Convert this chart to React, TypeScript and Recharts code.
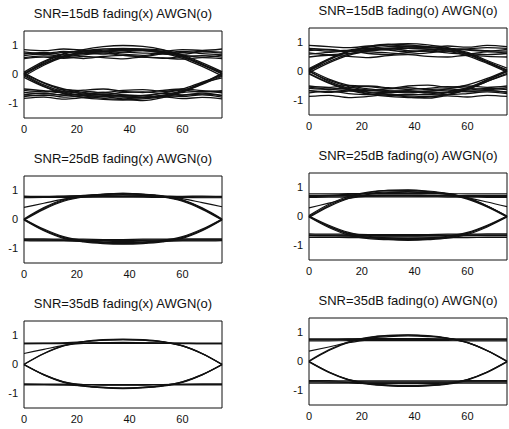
import { LineChart, Line, XAxis, YAxis, ReferenceArea } from 'recharts'

// sample positions along one symbol period
const xs = [0, 7.5, 15, 22.5, 30, 37.5, 45, 52.5, 60, 67.5, 75]
const xTicks = [0, 20, 40, 60]
const yTicks = [-1, 0, 1]

const snr15x = [
  [0.78, 0.72, 0.8, 0.74, 0.7, 0.77, 0.82, 0.75, 0.7, 0.78, 0.74],
  [0.65, 0.7, 0.62, 0.68, 0.74, 0.66, 0.62, 0.7, 0.66, 0.6, 0.67],
  [0.86, 0.82, 0.88, 0.84, 0.8, 0.87, 0.85, 0.8, 0.86, 0.83, 0.88],
  [0.55, 0.6, 0.56, 0.62, 0.58, 0.54, 0.6, 0.57, 0.53, 0.58, 0.55],
  [0.7, 0.76, 0.68, 0.72, 0.78, 0.7, 0.66, 0.74, 0.8, 0.72, 0.68],
  [0.58, 0.64, 0.6, 0.55, 0.62, 0.66, 0.6, 0.56, 0.62, 0.65, 0.6],
  [-0.7, -0.64, -0.72, -0.68, -0.62, -0.7, -0.74, -0.66, -0.7, -0.64, -0.72],
  [-0.55, -0.6, -0.52, -0.57, -0.62, -0.55, -0.52, -0.58, -0.54, -0.6, -0.56],
  [-0.82, -0.78, -0.85, -0.8, -0.76, -0.84, -0.8, -0.77, -0.83, -0.79, -0.84],
  [-0.62, -0.66, -0.6, -0.64, -0.68, -0.62, -0.6, -0.65, -0.62, -0.58, -0.63],
  [-0.76, -0.7, -0.78, -0.74, -0.68, -0.76, -0.8, -0.72, -0.76, -0.7, -0.78],
  [-0.5, -0.56, -0.6, -0.54, -0.5, -0.58, -0.62, -0.55, -0.5, -0.56, -0.6],
  [0.02, 0.42, 0.7, 0.86, 0.96, 1.0, 0.97, 0.86, 0.64, 0.36, 0.04],
  [-0.06, 0.32, 0.6, 0.74, 0.8, 0.84, 0.82, 0.74, 0.56, 0.28, -0.05],
  [0.08, 0.45, 0.72, 0.82, 0.88, 0.9, 0.88, 0.84, 0.68, 0.4, 0.1],
  [0.04, 0.38, 0.64, 0.78, 0.84, 0.88, 0.86, 0.78, 0.6, 0.34, 0.08],
  [0, -0.36, -0.6, -0.74, -0.82, -0.86, -0.9, -0.8, -0.6, -0.32, 0.02],
  [0.06, -0.28, -0.5, -0.62, -0.7, -0.74, -0.72, -0.64, -0.5, -0.26, -0.04],
  [-0.1, -0.42, -0.64, -0.72, -0.76, -0.78, -0.8, -0.72, -0.56, -0.3, -0.12],
  [-0.04, -0.4, -0.66, -0.8, -0.86, -0.88, -0.84, -0.76, -0.6, -0.34, -0.06],
  [0, 0.36, 0.62, 0.74, 0.8, 0.77, 0.74, 0.72, 0.76, 0.8, 0.77],
  [0.74, 0.7, 0.76, 0.8, 0.78, 0.83, 0.86, 0.8, 0.62, 0.33, 0.02],
  [0.03, -0.3, -0.55, -0.68, -0.72, -0.7, -0.73, -0.76, -0.72, -0.68, -0.73],
  [-0.7, -0.73, -0.68, -0.72, -0.76, -0.73, -0.78, -0.74, -0.58, -0.3, 0.04],
]

const snr15o = [
  [0.8, 0.75, 0.7, 0.76, 0.8, 0.72, 0.7, 0.78, 0.74, 0.7, 0.76],
  [0.6, 0.66, 0.7, 0.62, 0.58, 0.66, 0.7, 0.64, 0.6, 0.68, 0.64],
  [0.9, 0.86, 0.82, 0.88, 0.92, 0.86, 0.82, 0.88, 0.84, 0.9, 0.86],
  [0.5, 0.56, 0.52, 0.48, 0.55, 0.58, 0.52, 0.5, 0.56, 0.52, 0.5],
  [0.76, 0.7, 0.74, 0.8, 0.74, 0.68, 0.74, 0.8, 0.76, 0.72, 0.7],
  [0.64, 0.58, 0.62, 0.68, 0.64, 0.6, 0.64, 0.7, 0.62, 0.58, 0.62],
  [-0.66, -0.72, -0.68, -0.64, -0.7, -0.74, -0.68, -0.64, -0.7, -0.66, -0.72],
  [-0.5, -0.55, -0.48, -0.52, -0.58, -0.5, -0.47, -0.54, -0.5, -0.55, -0.5],
  [-0.86, -0.82, -0.9, -0.86, -0.8, -0.88, -0.92, -0.84, -0.88, -0.82, -0.86],
  [-0.58, -0.62, -0.6, -0.65, -0.6, -0.56, -0.62, -0.6, -0.64, -0.58, -0.62],
  [-0.74, -0.68, -0.76, -0.8, -0.74, -0.68, -0.74, -0.8, -0.76, -0.7, -0.76],
  [-0.54, -0.6, -0.56, -0.5, -0.56, -0.62, -0.58, -0.52, -0.58, -0.62, -0.56],
  [0.04, 0.4, 0.68, 0.84, 0.92, 0.96, 0.92, 0.82, 0.62, 0.34, 0.05],
  [-0.04, 0.3, 0.56, 0.7, 0.76, 0.8, 0.78, 0.7, 0.54, 0.28, -0.02],
  [0.1, 0.44, 0.7, 0.8, 0.86, 0.88, 0.86, 0.8, 0.66, 0.38, 0.12],
  [0.06, 0.42, 0.7, 0.86, 0.94, 0.92, 0.86, 0.78, 0.6, 0.32, 0.02],
  [0.02, -0.34, -0.58, -0.72, -0.78, -0.8, -0.8, -0.74, -0.58, -0.3, 0],
  [0.06, -0.26, -0.48, -0.6, -0.66, -0.7, -0.68, -0.6, -0.46, -0.24, 0.04],
  [-0.08, -0.4, -0.64, -0.78, -0.86, -0.9, -0.88, -0.8, -0.62, -0.34, -0.1],
  [-0.06, -0.38, -0.62, -0.76, -0.82, -0.84, -0.86, -0.8, -0.62, -0.34, -0.06],
  [0.02, 0.34, 0.6, 0.72, 0.78, 0.8, 0.76, 0.74, 0.78, 0.82, 0.8],
  [0.72, 0.76, 0.7, 0.74, 0.8, 0.84, 0.82, 0.76, 0.6, 0.32, 0.04],
  [0, -0.3, -0.52, -0.64, -0.68, -0.66, -0.7, -0.72, -0.68, -0.66, -0.7],
  [-0.66, -0.7, -0.64, -0.7, -0.72, -0.7, -0.74, -0.7, -0.56, -0.28, 0.02],
]

const snr25x = [
  [0.78, 0.78, 0.79, 0.79, 0.8, 0.8, 0.8, 0.79, 0.79, 0.78, 0.78],
  [0.75, 0.76, 0.76, 0.77, 0.77, 0.77, 0.77, 0.76, 0.76, 0.75, 0.75],
  [0.81, 0.8, 0.81, 0.82, 0.82, 0.81, 0.82, 0.81, 0.8, 0.81, 0.8],
  [-0.7, -0.7, -0.71, -0.71, -0.72, -0.72, -0.72, -0.71, -0.71, -0.7, -0.7],
  [-0.67, -0.67, -0.68, -0.68, -0.69, -0.69, -0.68, -0.68, -0.67, -0.67, -0.67],
  [-0.73, -0.74, -0.74, -0.75, -0.75, -0.76, -0.75, -0.75, -0.74, -0.74, -0.73],
  [0, 0.38, 0.66, 0.8, 0.87, 0.9, 0.87, 0.8, 0.66, 0.38, 0],
  [0.02, 0.41, 0.69, 0.82, 0.88, 0.9, 0.88, 0.82, 0.68, 0.4, 0.02],
  [-0.02, 0.35, 0.63, 0.78, 0.84, 0.86, 0.84, 0.78, 0.63, 0.35, -0.02],
  [0, -0.36, -0.62, -0.75, -0.81, -0.83, -0.81, -0.75, -0.62, -0.36, 0],
  [0.02, -0.33, -0.59, -0.72, -0.78, -0.8, -0.78, -0.72, -0.59, -0.33, 0.02],
  [-0.02, -0.39, -0.65, -0.77, -0.83, -0.85, -0.83, -0.77, -0.65, -0.39, -0.02],
  [0.42, 0.56, 0.7, 0.78, 0.8, 0.8, 0.79, 0.79, 0.78, 0.78, 0.78],
  [0.78, 0.79, 0.8, 0.83, 0.86, 0.88, 0.86, 0.8, 0.66, 0.38, 0],
  [0, -0.36, -0.62, -0.72, -0.72, -0.72, -0.71, -0.71, -0.7, -0.7, -0.7],
  [-0.7, -0.71, -0.72, -0.75, -0.8, -0.82, -0.8, -0.75, -0.62, -0.36, 0],
  [0.78, 0.78, 0.79, 0.79, 0.8, 0.8, 0.8, 0.79, 0.72, 0.58, 0.44],
]

const snr25o = [
  [0.72, 0.72, 0.73, 0.73, 0.74, 0.74, 0.73, 0.73, 0.72, 0.72, 0.72],
  [0.66, 0.67, 0.67, 0.68, 0.68, 0.68, 0.68, 0.67, 0.67, 0.66, 0.66],
  [0.78, 0.78, 0.79, 0.79, 0.8, 0.8, 0.79, 0.79, 0.78, 0.78, 0.78],
  [0.69, 0.7, 0.7, 0.71, 0.71, 0.71, 0.7, 0.7, 0.69, 0.69, 0.69],
  [-0.66, -0.66, -0.67, -0.67, -0.68, -0.68, -0.67, -0.67, -0.66, -0.66, -0.66],
  [-0.6, -0.61, -0.61, -0.62, -0.62, -0.62, -0.62, -0.61, -0.61, -0.6, -0.6],
  [-0.72, -0.72, -0.73, -0.73, -0.74, -0.74, -0.74, -0.73, -0.73, -0.72, -0.72],
  [-0.63, -0.64, -0.64, -0.65, -0.65, -0.65, -0.65, -0.64, -0.64, -0.63, -0.63],
  [0, 0.38, 0.66, 0.82, 0.9, 0.92, 0.88, 0.8, 0.64, 0.36, 0],
  [0.03, 0.42, 0.7, 0.84, 0.9, 0.9, 0.86, 0.78, 0.62, 0.35, 0.02],
  [-0.03, 0.34, 0.62, 0.76, 0.82, 0.84, 0.82, 0.76, 0.6, 0.33, -0.02],
  [0, -0.34, -0.6, -0.72, -0.78, -0.8, -0.78, -0.72, -0.58, -0.33, 0],
  [0.02, -0.3, -0.55, -0.68, -0.74, -0.76, -0.74, -0.68, -0.55, -0.3, 0.02],
  [-0.02, -0.38, -0.64, -0.76, -0.8, -0.82, -0.8, -0.75, -0.62, -0.36, -0.02],
  [0.3, 0.46, 0.62, 0.7, 0.72, 0.72, 0.72, 0.72, 0.72, 0.72, 0.72],
  [0.72, 0.73, 0.76, 0.8, 0.85, 0.86, 0.84, 0.78, 0.64, 0.36, 0],
  [0, -0.34, -0.58, -0.66, -0.67, -0.67, -0.67, -0.66, -0.66, -0.66, -0.66],
  [-0.66, -0.67, -0.68, -0.72, -0.76, -0.78, -0.76, -0.72, -0.58, -0.33, 0],
  [0.72, 0.72, 0.73, 0.73, 0.74, 0.74, 0.73, 0.72, 0.64, 0.5, 0.34],
]

const snr35x = [
  [0.72, 0.72, 0.72, 0.73, 0.73, 0.73, 0.73, 0.73, 0.72, 0.72, 0.72],
  [0.74, 0.74, 0.74, 0.74, 0.75, 0.75, 0.75, 0.74, 0.74, 0.74, 0.74],
  [-0.68, -0.68, -0.68, -0.69, -0.69, -0.69, -0.69, -0.69, -0.68, -0.68, -0.68],
  [-0.7, -0.7, -0.7, -0.7, -0.71, -0.71, -0.71, -0.7, -0.7, -0.7, -0.7],
  [0, 0.37, 0.64, 0.78, 0.84, 0.86, 0.84, 0.78, 0.64, 0.37, 0],
  [0.01, 0.38, 0.65, 0.79, 0.86, 0.88, 0.86, 0.79, 0.65, 0.38, 0.01],
  [0, -0.35, -0.6, -0.73, -0.79, -0.81, -0.79, -0.73, -0.6, -0.35, 0],
  [-0.01, -0.36, -0.62, -0.75, -0.81, -0.83, -0.81, -0.75, -0.62, -0.36, -0.01],
  [0.38, 0.52, 0.66, 0.73, 0.75, 0.76, 0.75, 0.74, 0.73, 0.72, 0.72],
  [0.72, 0.73, 0.75, 0.79, 0.84, 0.86, 0.84, 0.78, 0.64, 0.37, 0],
  [0, -0.35, -0.6, -0.69, -0.7, -0.7, -0.7, -0.69, -0.69, -0.68, -0.68],
  [-0.68, -0.69, -0.7, -0.74, -0.79, -0.81, -0.79, -0.73, -0.6, -0.35, 0],
]

const snr35o = [
  [0.75, 0.75, 0.76, 0.76, 0.76, 0.76, 0.76, 0.76, 0.75, 0.75, 0.75],
  [0.71, 0.71, 0.72, 0.72, 0.72, 0.72, 0.72, 0.72, 0.71, 0.71, 0.71],
  [0.78, 0.78, 0.78, 0.79, 0.79, 0.79, 0.79, 0.78, 0.78, 0.78, 0.78],
  [-0.7, -0.7, -0.71, -0.71, -0.71, -0.71, -0.71, -0.71, -0.7, -0.7, -0.7],
  [-0.66, -0.66, -0.67, -0.67, -0.67, -0.67, -0.67, -0.67, -0.66, -0.66, -0.66],
  [-0.75, -0.75, -0.75, -0.76, -0.76, -0.76, -0.76, -0.75, -0.75, -0.75, -0.75],
  [0, 0.38, 0.66, 0.82, 0.89, 0.91, 0.88, 0.8, 0.65, 0.37, 0],
  [0.02, 0.4, 0.68, 0.83, 0.9, 0.92, 0.89, 0.81, 0.66, 0.38, 0.02],
  [0, -0.36, -0.62, -0.76, -0.82, -0.84, -0.82, -0.76, -0.62, -0.36, 0],
  [-0.02, -0.38, -0.64, -0.78, -0.84, -0.86, -0.84, -0.78, -0.64, -0.38, -0.02],
  [0.36, 0.5, 0.65, 0.74, 0.76, 0.76, 0.76, 0.76, 0.75, 0.75, 0.75],
  [0.75, 0.75, 0.77, 0.81, 0.86, 0.88, 0.86, 0.8, 0.65, 0.37, 0],
  [0, -0.36, -0.62, -0.71, -0.71, -0.71, -0.71, -0.71, -0.7, -0.7, -0.7],
  [-0.7, -0.71, -0.72, -0.76, -0.81, -0.83, -0.81, -0.76, -0.62, -0.36, 0],
]

const font = '"Liberation Sans", Arial, sans-serif'

function EyePanel({ title, traces, left, top, width, lineWidth }: { title: string; traces: number[][]; left: number; top: number; width: number; lineWidth: number }) {
  const rows = xs.map((x, i) => {
    const row: Record<string, number> = { x }
    traces.forEach((t, k) => { row['t' + k] = t[i] })
    return row
  })
  return (
    <div style={{ position: 'absolute', left, top }}>
      <div style={{ position: 'absolute', left: 24, top: 6, width, textAlign: 'center', fontFamily: font, fontSize: 13, lineHeight: '16px', color: '#111', whiteSpace: 'nowrap' }}>
        {title}
      </div>
      <LineChart width={24 + width + 8} height={145} data={rows} margin={{ top: 31, right: 8, bottom: 0, left: 0 }}>
        <XAxis
          dataKey="x"
          type="number"
          domain={[0, 75]}
          ticks={xTicks}
          height={27}
          tickLine={false}
          axisLine={false}
          tickSize={3}
          tickMargin={4}
          tick={{ fontSize: 11, fill: '#111', fontFamily: font }}
        />
        <YAxis
          type="number"
          domain={[-1.5, 1.5]}
          ticks={yTicks}
          width={24}
          allowDataOverflow
          tickLine={false}
          axisLine={false}
          tickSize={3}
          tickMargin={3}
          tick={{ fontSize: 11, fill: '#111', fontFamily: font }}
        />
        <ReferenceArea x1={0} x2={75} y1={-1.5} y2={1.5} fill="none" stroke="#111" strokeWidth={1} />
        {traces.map((_, k) => (
          <Line
            key={k}
            dataKey={'t' + k}
            type="monotone"
            stroke="#111"
            strokeWidth={lineWidth}
            dot={false}
            activeDot={false}
            isAnimationActive={false}
          />
        ))}
      </LineChart>
    </div>
  )
}

export default function App() {
  return (
    <div style={{ position: 'absolute', left: 0, top: 0, width: 509, height: 429, background: '#fff', overflow: 'hidden' }}>
      <EyePanel title="SNR=15dB fading(x) AWGN(o)" traces={snr15x} left={0} top={0} width={198} lineWidth={1.3} />
      <EyePanel title="SNR=15dB fading(o) AWGN(o)" traces={snr15o} left={285} top={-3} width={198} lineWidth={1.3} />
      <EyePanel title="SNR=25dB fading(x) AWGN(o)" traces={snr25x} left={0} top={145} width={198} lineWidth={1.2} />
      <EyePanel title="SNR=25dB fading(o) AWGN(o)" traces={snr25o} left={285} top={142} width={198} lineWidth={1.2} />
      <EyePanel title="SNR=35dB fading(x) AWGN(o)" traces={snr35x} left={0} top={290} width={198} lineWidth={1.2} />
      <EyePanel title="SNR=35dB fading(o) AWGN(o)" traces={snr35o} left={285} top={287} width={198} lineWidth={1.2} />
    </div>
  )
}
